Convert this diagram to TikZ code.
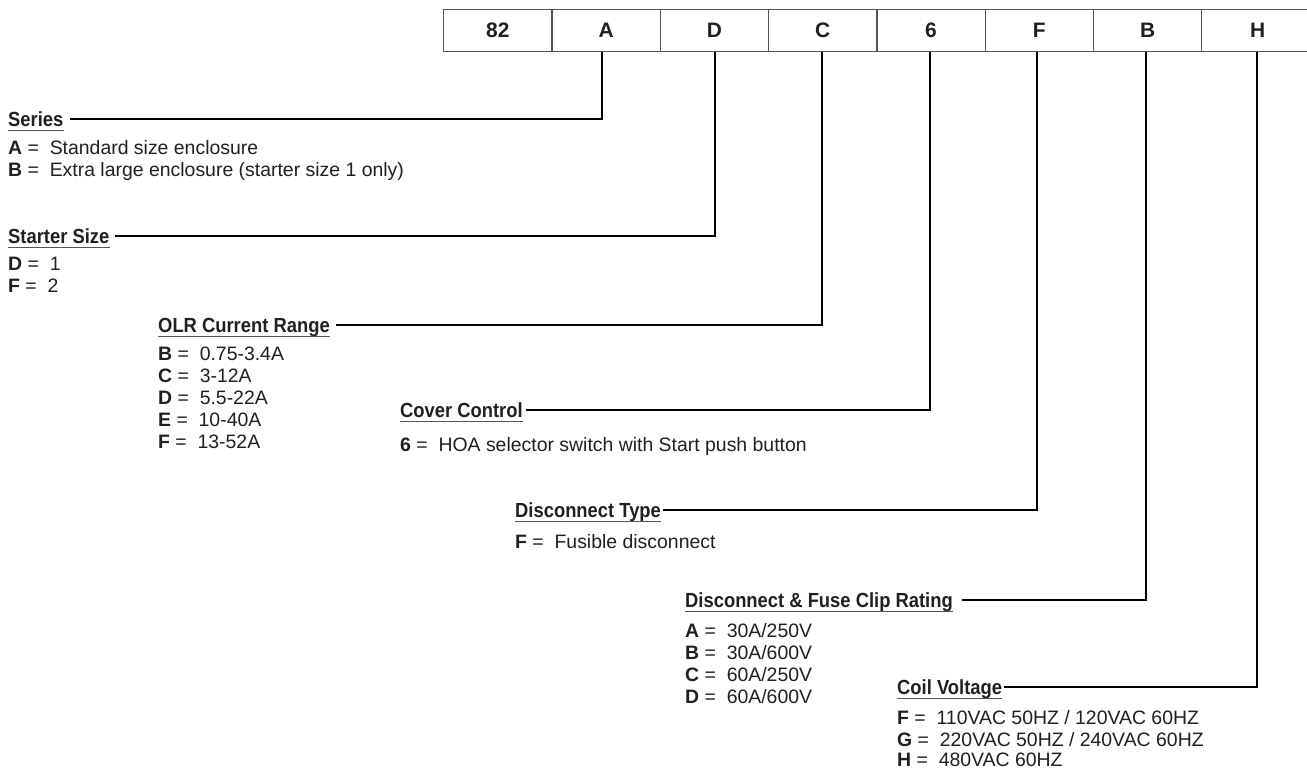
\documentclass[tikz,border=0pt]{standalone}
\usepackage{fontspec}
\setmainfont{Liberation Sans}
\newfontfamily\titlefont[FakeStretch=0.9]{Liberation Sans}
\definecolor{ink}{HTML}{231F20}
\definecolor{rule}{HTML}{555555}
\begin{document}
\begin{tikzpicture}[x=1bp,y=-1bp,
 cell/.style={draw=rule, line width=1.3bp, minimum width=108.3bp, minimum height=42bp, inner sep=0, anchor=north west, font=\fontsize{21}{24}\selectfont\bfseries, text=ink},
 ttl/.style={anchor=west, inner sep=0, text height=14bp, text depth=0bp, font=\titlefont\fontsize{20.5}{22}\selectfont\bfseries, text=ink},
 itm/.style={anchor=base west, inner sep=0, font=\fontsize{19.5}{22}\selectfont, text=ink},
 conn/.style={draw=black, line width=2bp},
 ul/.style={draw=rule, line width=1.1bp}]
\useasboundingbox (0,0) rectangle (1307,768);
\fill[white] (0,0) rectangle (1307,768);
% code boxes
\node[cell] (c1) at (443.0,9) {82};
\node[cell] (c2) at (551.3,9) {A};
\node[cell] (c3) at (659.6,9) {D};
\node[cell] (c4) at (767.9,9) {C};
\node[cell] (c5) at (876.2,9) {6};
\node[cell] (c6) at (984.5,9) {F};
\node[cell] (c7) at (1092.8,9) {B};
\node[cell, minimum width=112bp, text width=108.3bp, align=center] (c8) at (1201.1,9) {H};
% titles
\node[ttl] (tSer) at (8,119) {Series};
\node[ttl] (tSta) at (8,236) {Starter Size};
\node[ttl] (tOLR) at (158,325) {OLR Current Range};
\node[ttl] (tCov) at (400,410) {Cover Control};
\node[ttl] (tDis) at (515,510) {Disconnect Type};
\node[ttl] (tFus) at (685,600) {Disconnect \& Fuse Clip Rating};
\node[ttl] (tCoi) at (897,687) {Coil Voltage};
\foreach \t in {tSer,tSta,tOLR,tCov,tDis,tFus,tCoi}{
  \draw[ul] ([yshift=-4bp]\t.south west) -- ([yshift=-4bp]\t.south east);
}
% connectors
\draw[conn] ([xshift=-3.8bp]c2.south) |- ([xshift=6bp]tSer.east);
\draw[conn] ([xshift=0.3bp]c3.south) |- ([xshift=5bp]tSta.east);
\draw[conn] ([xshift=-0.3bp]c4.south) |- ([xshift=6bp]tOLR.east);
\draw[conn] ([xshift=-0.6bp]c5.south) |- ([xshift=3bp]tCov.east);
\draw[conn] ([xshift=-2bp]c6.south) |- ([xshift=2bp]tDis.east);
\draw[conn] ([xshift=-2bp]c7.south) |- ([xshift=9bp]tFus.east);
\draw[conn] ([xshift=-0.3bp]c8.south) |- ([xshift=2bp]tCoi.east);
% items
\node[itm] (s1) at (8,154) {\textbf{A} = \ Standard size enclosure};
\node[itm] (s2) at (8,176) {\textbf{B} = \ Extra large enclosure (starter size 1 only)};
\node[itm] (z1) at (8,270) {\textbf{D} = \ 1};
\node[itm] (z2) at (8,292) {\textbf{F} = \ 2};
\node[itm] (o1) at (158,360) {\textbf{B} = \ 0.75-3.4A};
\node[itm] (o2) at (158,382) {\textbf{C} = \ 3-12A};
\node[itm] (o3) at (158,404) {\textbf{D} = \ 5.5-22A};
\node[itm] (o4) at (158,426) {\textbf{E} = \ 10-40A};
\node[itm] (o5) at (158,448) {\textbf{F} = \ 13-52A};
\node[itm] (v1) at (400,451) {\textbf{6} = \ HOA selector switch with Start push button};
\node[itm] (d1) at (515,548) {\textbf{F} = \ Fusible disconnect};
\node[itm] (f1) at (685,637) {\textbf{A} = \ 30A/250V};
\node[itm] (f2) at (685,659) {\textbf{B} = \ 30A/600V};
\node[itm] (f3) at (685,681) {\textbf{C} = \ 60A/250V};
\node[itm] (f4) at (685,703) {\textbf{D} = \ 60A/600V};
\node[itm] (k1) at (897,724) {\textbf{F} = \ 110VAC 50HZ / 120VAC 60HZ};
\node[itm] (k2) at (897,746) {\textbf{G} = \ 220VAC 50HZ / 240VAC 60HZ};
\node[itm] (k3) at (897,766) {\textbf{H} = \ 480VAC 60HZ};
\end{tikzpicture}
\end{document}
